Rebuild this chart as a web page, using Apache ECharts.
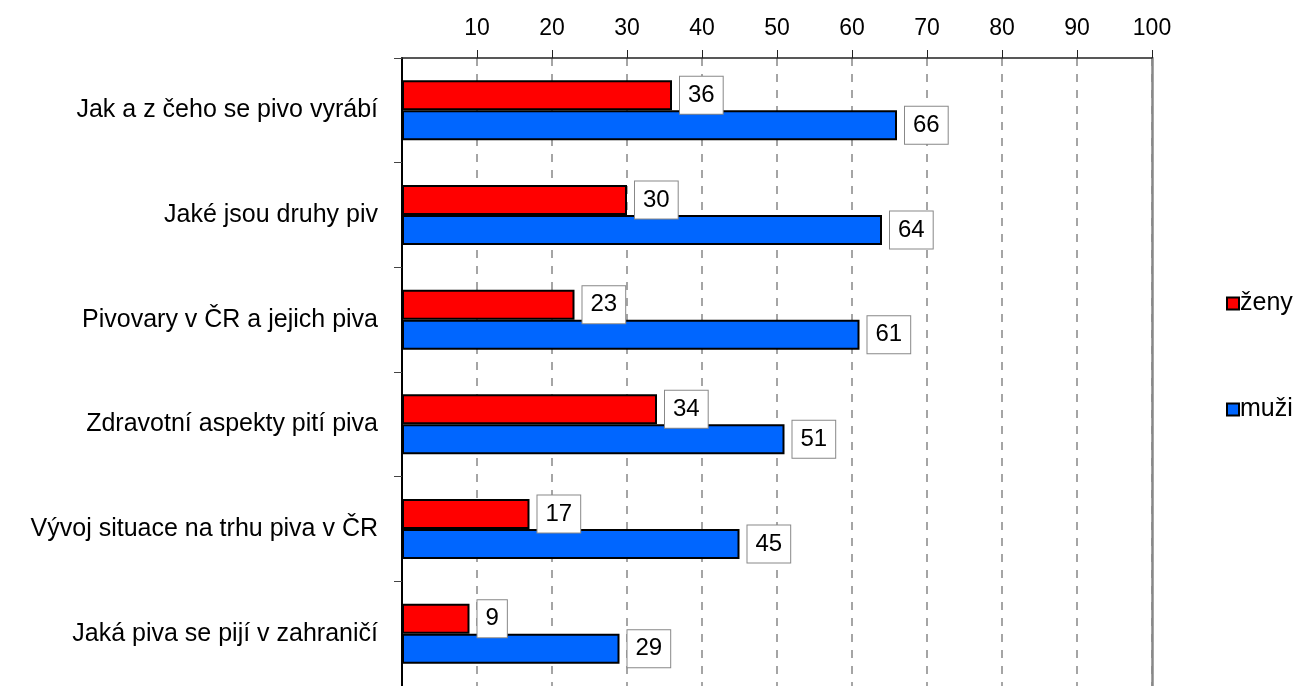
<!DOCTYPE html>
<html>
<head>
<meta charset="utf-8">
<script src="https://cdn.jsdelivr.net/npm/echarts@6/dist/echarts.min.js"></script>
<style>
  html, body { margin: 0; padding: 0; background: #fff; }
  #chart { width: 1305px; height: 686px; }
</style>
</head>
<body>
<div id="chart"></div>
<script>
var categories = [
    'Jak a z čeho se pivo vyrábí',
    'Jaké jsou druhy piv',
    'Pivovary v ČR a jejich piva',
    'Zdravotní aspekty pití piva',
    'Vývoj situace na trhu piva v ČR',
    'Jaká piva se pijí v zahraničí'
];
var zeny = [36, 30, 23, 34, 17, 9];
var muzi = [66, 64, 61, 51, 45, 29];

var font = 'Liberation Sans, Arial, sans-serif';

var labelStyle = {
    show: true,
    position: 'right',
    distance: 8,
    color: '#000',
    fontFamily: font,
    fontSize: 24,
    lineHeight: 24,
    backgroundColor: '#fff',
    borderColor: '#888',
    borderWidth: 1,
    padding: [7, 8, 6, 8]
};

var chart = echarts.init(document.getElementById('chart'));
var option = {
    animation: false,
    backgroundColor: '#fff',
    grid: { left: 402, right: 153, top: 58, height: 634 },
    legend: {
        orient: 'vertical',
        left: 1221,
        top: 286,
        itemGap: 81,
        itemWidth: 12,
        itemHeight: 12,
        icon: 'rect',
        textStyle: { fontFamily: font, fontSize: 25, color: '#000', padding: [0, 0, 0, -4] },
        data: ['ženy', 'muži']
    },
    xAxis: {
        type: 'value',
        position: 'top',
        min: 0,
        max: 100,
        interval: 10,
        axisLine: { show: true, lineStyle: { color: '#222', width: 1.5 } },
        axisTick: { show: true, length: 8, lineStyle: { color: '#222', width: 1 } },
        axisLabel: {
            showMinLabel: false,
            margin: 18,
            color: '#000',
            fontFamily: font,
            fontSize: 23
        },
        splitLine: { show: true, lineStyle: { color: '#888', type: [8, 8], width: 1.5 } }
    },
    yAxis: [{
        type: 'category',
        inverse: true,
        data: categories,
        axisLine: { show: true, lineStyle: { color: '#000', width: 2 } },
        axisTick: { show: true, length: 8, lineStyle: { color: '#444', width: 1 } },
        axisLabel: {
            margin: 24,
            color: '#000',
            fontFamily: font,
            fontSize: 25
        }
    }, {
        type: 'category',
        inverse: true,
        position: 'right',
        data: categories,
        axisLine: { show: true, lineStyle: { color: '#888', width: 2.5 } },
        axisTick: { show: false },
        axisLabel: { show: false }
    }],
    series: [{
        name: 'ženy',
        type: 'bar',
        data: zeny,
        barWidth: 30,
        barGap: '0%',
        itemStyle: { color: '#ff0000', borderColor: '#000', borderWidth: 2 },
        label: labelStyle
    }, {
        name: 'muži',
        type: 'bar',
        data: muzi,
        barWidth: 30,
        barGap: '0%',
        itemStyle: { color: '#0066ff', borderColor: '#000', borderWidth: 2 },
        label: labelStyle
    }]
};
chart.setOption(option);
</script>
</body>
</html>
